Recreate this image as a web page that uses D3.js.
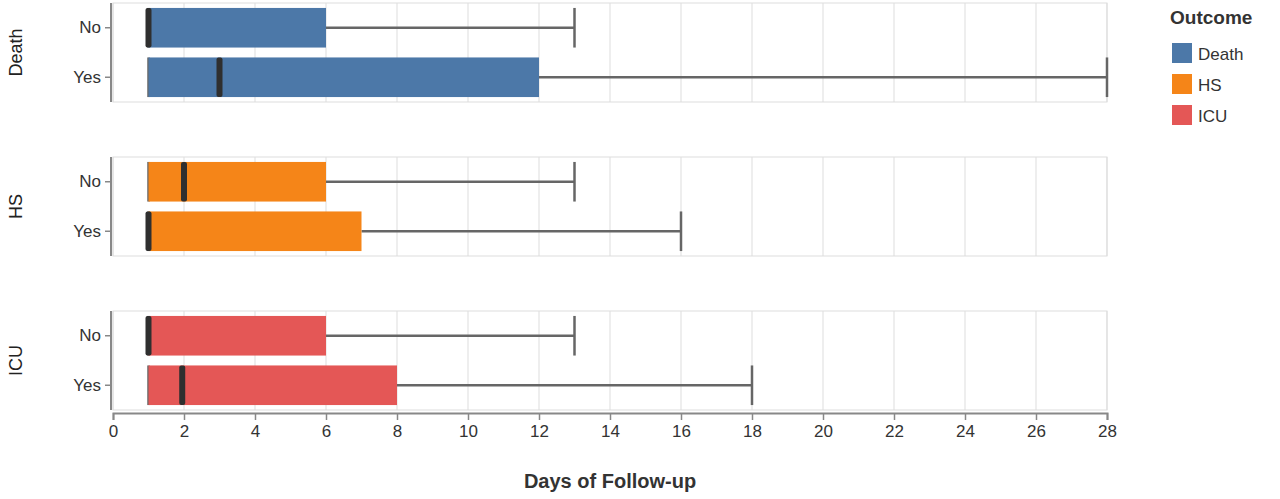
<!DOCTYPE html><html><head><meta charset="utf-8">
<script src="https://cdn.jsdelivr.net/npm/d3@7"></script>
<style>body{margin:0;background:#fff}</style></head><body>
<svg id="c" width="1280" height="499"></svg>
<script>
const outcomes=["Death","HS","ICU"];
const groups=["No","Yes"];
const colors=["#4c78a8","#f58518","#e45756"];
const minV=[[1,1],[1,1],[1,1]];
const q1V=[[1,1],[1,1],[1,1]];
const medV=[[1,3],[2,1],[1,1.95]];
const q3V=[[6,12],[6,7],[6,8]];
const maxV=[[13,28],[13,16],[13,18]];
const xTicks=d3.range(0,29,2);

const svg=d3.select("#c");
const font="Liberation Sans, Arial, sans-serif";
const x=d3.scaleLinear().domain([0,28]).range([113,1107]);
const panelTop=[3,157,311], ph=99;
outcomes.forEach((o,i)=>{
  const g=svg.append("g").attr("transform",`translate(0,${panelTop[i]})`);
  const y=d3.scaleBand().domain(groups).range([0,ph]).paddingInner(0.2).paddingOuter(0.1);
  g.selectAll(".grid").data(xTicks).join("line").attr("x1",d=>x(d)).attr("x2",d=>x(d)).attr("y1",0).attr("y2",ph).attr("stroke","#ddd");
  g.append("rect").attr("x",113).attr("y",0).attr("width",994).attr("height",ph).attr("fill","none").attr("stroke","#ddd");
  groups.forEach((gr,j)=>{
    const y0=y(gr),bh=y.bandwidth(),cy=y0+bh/2;
    g.append("line").attr("x1",x(q3V[i][j])).attr("x2",x(maxV[i][j])).attr("y1",cy).attr("y2",cy).attr("stroke","#666").attr("stroke-width",2.5);
    g.append("line").attr("x1",x(maxV[i][j])).attr("x2",x(maxV[i][j])).attr("y1",y0).attr("y2",y0+bh).attr("stroke","#666").attr("stroke-width",2.5);
    g.append("line").attr("x1",x(minV[i][j])).attr("x2",x(minV[i][j])).attr("y1",y0).attr("y2",y0+bh).attr("stroke","#666").attr("stroke-width",2.5);
    g.append("rect").attr("x",x(q1V[i][j])).attr("y",y0).attr("width",x(q3V[i][j])-x(q1V[i][j])).attr("height",bh).attr("fill",colors[i]);
    g.append("rect").attr("x",x(medV[i][j])-3).attr("y",y0).attr("width",6).attr("height",bh).attr("rx",2).attr("fill","#2f2f2f");
  });
  const ya=g.append("g").attr("transform","translate(111,0)").call(d3.axisLeft(y).tickSize(6).tickPadding(4));
  ya.select(".domain").attr("stroke","#888").attr("stroke-width",2).attr("d",`M0,0V${ph}`);
  ya.selectAll(".tick line").attr("stroke","#888").attr("stroke-width",1.5);
  ya.selectAll("text").attr("font-family",font).attr("font-size",17).attr("fill","#333");
  g.append("text").attr("transform",`translate(22,${ph/2}) rotate(-90)`).attr("text-anchor","middle").attr("font-family",font).attr("font-size",18).attr("fill","#222").text(o);
});
const xa=svg.append("g").attr("transform","translate(0,413)").call(d3.axisBottom(x).tickValues(xTicks).tickSize(7).tickPadding(5));
xa.select(".domain").attr("stroke","#888").attr("stroke-width",2);
xa.selectAll(".tick line").attr("stroke","#888").attr("stroke-width",1.5);
xa.selectAll("text").attr("font-family",font).attr("font-size",17).attr("fill","#333");
svg.append("text").attr("x",610).attr("y",488).attr("text-anchor","middle").attr("font-family",font).attr("font-weight","bold").attr("font-size",20).attr("fill","#333").text("Days of Follow-up");
const lg=svg.append("g").attr("transform","translate(1170,0)");
lg.append("text").attr("x",0).attr("y",24).attr("font-family",font).attr("font-weight","bold").attr("font-size",19).attr("fill","#333").text("Outcome");
outcomes.forEach((o,i)=>{
  lg.append("rect").attr("x",2).attr("y",43+i*31).attr("width",20).attr("height",20).attr("fill",colors[i]);
  lg.append("text").attr("x",28).attr("y",60+i*31).attr("font-family",font).attr("font-size",17).attr("fill","#333").text(o);
});
</script></body></html>
